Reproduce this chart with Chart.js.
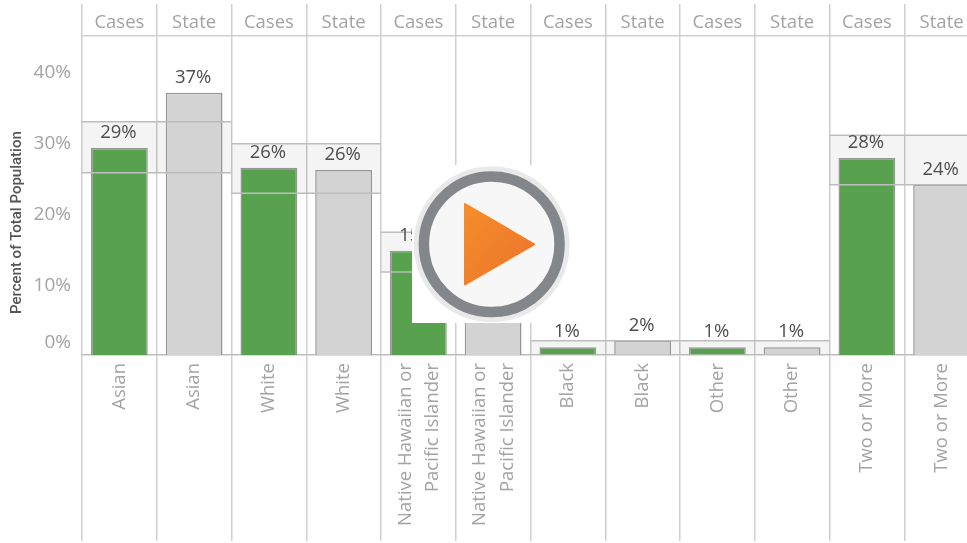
<!DOCTYPE html>
<html>
<head>
<meta charset="utf-8">
<style>
  html, body { margin: 0; padding: 0; background: #fff; overflow: hidden; }
  #wrap { position: relative; width: 967px; height: 543px; overflow: hidden; }
  canvas { position: absolute; left: 0; top: 0; }
  #play { position: absolute; left: 0; top: 0; }
</style>
<script src="https://cdn.jsdelivr.net/npm/chart.js@4"></script>
</head>
<body>
<div id="wrap">
  <canvas id="chart" width="979" height="543"></canvas>
  <svg id="play" width="967" height="543">
    <defs>
      <linearGradient id="orange" x1="0" y1="0" x2="1" y2="1">
        <stop offset="0" stop-color="#f68d2b"/>
        <stop offset="1" stop-color="#ea742c"/>
      </linearGradient>
    </defs>
    <rect x="412" y="165" width="120" height="158" fill="#fff"/>
    <circle cx="491.7" cy="244.3" r="78" fill="#e9e9e9"/>
    <circle cx="491.7" cy="244.3" r="67.8" fill="#f7f7f7" stroke="#83878c" stroke-width="10.5"/>
    <path d="M465 204 L534 244.3 L465 284.5 Z" fill="url(#orange)" stroke="url(#orange)" stroke-width="2" stroke-linejoin="round"/>
  </svg>
</div>
<script>
const categories = ["Asian", "Asian", "White", "White",
  ["Native Hawaiian or", "Pacific Islander"], ["Native Hawaiian or", "Pacific Islander"],
  "Black", "Black", "Other", "Other", "Two or More", "Two or More"];
const headers = ["Cases", "State", "Cases", "State", "Cases", "State", "Cases", "State", "Cases", "State", "Cases", "State"];
const values = [29.2, 37, 26.4, 26.1, 14.7, 15, 1.1, 2, 1.1, 1.1, 27.8, 24];
const valueLabels = ["29%", "37%", "26%", "26%", "15%", "15%", "1%", "2%", "1%", "1%", "28%", "24%"];
const bandLow = [25.7, 25.7, 22.8, 22.8, 11.7, 11.7, 0, 0, 0, 0, 24, 24];
const bandHigh = [32.9, 32.9, 29.8, 29.8, 17.3, 17.3, 2, 2, 2, 2, 31, 31];
const yTicks = [0, 10, 20, 30, 40];

const FONT = "'Open Sans'";
const LINE = "#cfcfcf";
const barColors = headers.map((h) => (h === "Cases" ? "#58a14e" : "#d3d3d3"));

// horizontal band edges run across both columns of a pair, so they sit on a linear scale
const bandEdge = (arr) => {
  let pts = [];
  for (let i = 0; i < arr.length; i += 2) {
    pts.push({ x: i - 0.5, y: arr[i] }, { x: i + 1.5, y: arr[i] }, { x: i + 1.5, y: null });
  }
  return pts;
};

const valueLabelPlugin = {
  id: "valueLabels",
  afterDatasetsDraw(chart) {
    const ctx = chart.ctx;
    const meta = chart.getDatasetMeta(1);
    ctx.save();
    ctx.font = "18.5px " + FONT;
    ctx.fillStyle = "#4d4d4d";
    ctx.textAlign = "center";
    ctx.textBaseline = "middle";
    meta.data.forEach((bar, i) => {
      ctx.fillText(valueLabels[i], bar.x - 1, bar.y - 15);
    });
    ctx.restore();
  },
};

// nudges tick labels: 0% sits higher than its tick, two-line labels are centred on the column
const nudgeLabelsPlugin = {
  id: "nudgeLabels",
  beforeDraw(chart) {
    chart.scales.y.getLabelItems().forEach((item) => {
      if (item.nudged) return;
      item.options.translation[1] += item.label === "0%" ? -12 : 1.5;
      item.nudged = true;
    });
    chart.scales.x.getLabelItems().forEach((item) => {
      if (item.nudged || !Array.isArray(item.label)) return;
      item.options.translation[0] -= 13;
      item.nudged = true;
    });
  },
};

new Chart(document.getElementById("chart"), {
  type: "bar",
  data: {
    labels: categories,
    datasets: [
      {
        label: "Band",
        data: bandLow.map((lo, i) => [lo, bandHigh[i]]),
        backgroundColor: "rgba(0,0,0,0.045)",
        borderWidth: 0,
        grouped: false,
        barPercentage: 1,
        categoryPercentage: 1,
        order: 3,
      },
      {
        label: "Percent",
        data: values,
        backgroundColor: barColors,
        borderColor: "#969696",
        borderWidth: 1.5,
        grouped: false,
        barPercentage: 0.76,
        categoryPercentage: 1,
        order: 2,
      },
      {
        type: "line",
        label: "Band low",
        data: bandEdge(bandLow),
        xAxisID: "xBand",
        borderColor: "#bdbdbd",
        borderWidth: 1.5,
        pointRadius: 0,
        order: 1,
      },
      {
        type: "line",
        label: "Band high",
        data: bandEdge(bandHigh),
        xAxisID: "xBand",
        borderColor: "#bdbdbd",
        borderWidth: 1.5,
        pointRadius: 0,
        order: 1,
      },
    ],
  },
  options: {
    responsive: false,
    animation: false,
    layout: { padding: { left: 0, right: 0, top: 0, bottom: 0 } },
    plugins: { legend: { display: false }, tooltip: { enabled: false } },
    scales: {
      x: {
        position: "bottom",
        offset: true,
        afterFit: (s) => { s.height = 188; },
        grid: { offset: true, color: LINE, lineWidth: 1.5, tickLength: 186, tickColor: LINE, drawOnChartArea: true },
        border: { color: "#bdbdbd", width: 1.5 },
        ticks: {
          autoSkip: false,
          minRotation: 90,
          maxRotation: 90,
          padding: -178,
          color: "#a3a3a3",
          font: { family: FONT, size: 18.5, lineHeight: 1.5 },
        },
      },
      xTop: {
        type: "category",
        labels: headers,
        position: "top",
        offset: true,
        afterFit: (s) => { s.height = 36; },
        grid: { offset: true, drawOnChartArea: false, color: LINE, lineWidth: 1.5, tickLength: 32, tickColor: LINE },
        border: { color: LINE, width: 1.5 },
        ticks: {
          autoSkip: false,
          maxRotation: 0,
          padding: -29.5,
          color: "#a3a3a3",
          font: { family: FONT, size: 18.5 },
        },
      },
      xBand: { type: "linear", display: false, offset: false, min: -0.5, max: 11.5 },
      y: {
        min: 0,
        max: 45,
        position: "left",
        afterFit: (s) => { s.width = 82; },
        afterBuildTicks: (s) => { s.ticks = yTicks.map((v) => ({ value: v })); },
        grid: { display: false },
        border: { display: false },
        title: {
          display: true,
          align: "start",
          text: " ".repeat(11) + "Percent of Total Population",
          color: "#555",
          font: { family: "Roboto", size: 15, weight: "500" },
          padding: { top: 8, bottom: 0 },
        },
        ticks: {
          callback: (v) => v + "%",
          color: "#a3a3a3",
          padding: 3,
          font: { family: FONT, size: 19 },
        },
      },
    },
  },
  plugins: [valueLabelPlugin, nudgeLabelsPlugin],
});
</script>
</body>
</html>
